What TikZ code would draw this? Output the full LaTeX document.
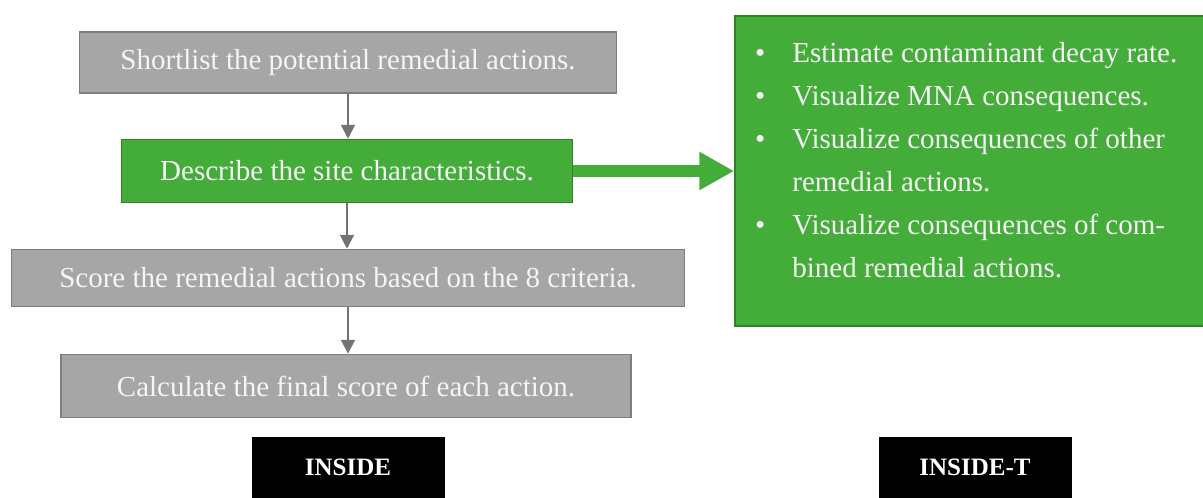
\documentclass[tikz,border=0pt]{standalone}
\usepackage{fontspec}
\setmainfont{Liberation Serif}
\usepackage{tikz}
\usetikzlibrary{positioning, arrows.meta}
\definecolor{boxgray}{RGB}{166,166,166}
\definecolor{edgegray}{RGB}{125,125,125}
\definecolor{arrowgray}{RGB}{115,115,115}
\definecolor{boxgreen}{RGB}{68,173,58}
\definecolor{edgegreen}{RGB}{48,128,40}
\definecolor{textwhite}{RGB}{245,245,245}

\begin{document}
\begin{tikzpicture}[
        x=1pt, y=-1pt,
        stepbox/.style={draw=edgegray, line width=1.5pt, fill=boxgray, text=textwhite,
          font=\fontsize{29}{34}\selectfont, inner sep=0pt},
        greenbox/.style={stepbox, draw=edgegreen, fill=boxgreen},
        tagbox/.style={fill=black, text=white, inner sep=0pt,
          minimum width=193pt, minimum height=61pt, font=\bfseries\fontsize{25}{30}\selectfont},
        flow/.style={draw=arrowgray, line width=2pt, -{Triangle[length=14pt,width=14pt]}},
        bigflow/.style={draw=boxgreen, line width=12pt, -{Triangle[length=35pt,width=36pt]}}
      ]
      \useasboundingbox (0,0) rectangle (1203,498);

      % method steps
      \node[stepbox, minimum width=537pt, minimum height=61pt] (shortlist) at (348,62.5)
        {Shortlist the potential remedial actions.};
      \node[greenbox, minimum width=451pt, minimum height=63pt] (site) at (347,171)
        {Describe the site characteristics.};
      \node[stepbox, minimum width=673pt, minimum height=57pt] (score) at (348,278)
        {Score the remedial actions based on the 8 criteria.};
      \node[stepbox, minimum width=570pt, minimum height=63pt] (final) at (346,386)
        {Calculate the final score of each action.};

      % extra tasks
      \node[greenbox, minimum width=470pt, minimum height=310pt] (tasks) at (970,171) {};
      \node[anchor=north west, inner sep=0pt, text=textwhite, align=left] (tasklist) at (755,32)
        {\fontsize{29}{43}\selectfont
         \begin{tabular}{@{}l@{\hspace{27pt}}l@{}}
           \textbullet & Estimate contaminant decay rate.\\
           \textbullet & Visualize MNA consequences.\\
           \textbullet & Visualize consequences of other\\
                       & remedial actions.\\
           \textbullet & Visualize consequences of com-\\
                       & bined remedial actions.
         \end{tabular}};

      % tool labels
      \node[tagbox] (inside) at (348,467.5) {INSIDE};
      \node[tagbox] (insidet) at (975,467.5) {INSIDE-T};

      \draw[flow] (shortlist.south) -- (shortlist.south |- site.north);
      \draw[flow] (site.south) -- (site.south |- score.north);
      \draw[flow] (score.south) -- (score.south |- final.north);
      \draw[bigflow] (site.east) -- (tasks.west);
\end{tikzpicture}
\end{document}
